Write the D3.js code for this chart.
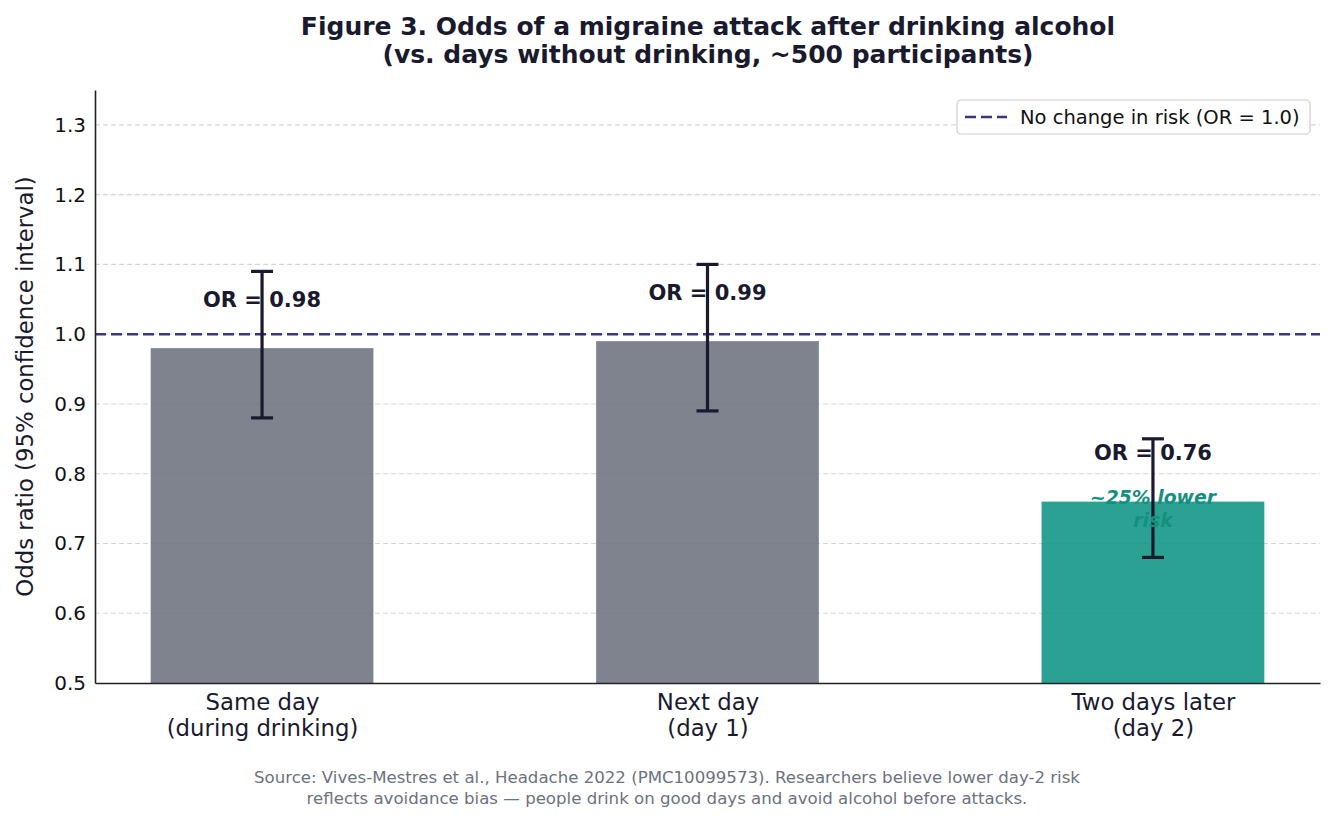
<!DOCTYPE html>
<html>
<head>
<meta charset="utf-8">
<script src="https://cdn.jsdelivr.net/npm/d3@7"></script>
<style>
  html, body { margin: 0; padding: 0; background: #fff; }
  svg { display: block; font-family: "DejaVu Sans", sans-serif; }
</style>
</head>
<body>
<svg id="chart" width="1335" height="822"></svg>
<script>
const categories = ["Same day\n(during drinking)", "Next day\n(day 1)", "Two days later\n(day 2)"];
const oddsRatios = [0.98, 0.99, 0.76];
const ciLow = [0.88, 0.89, 0.68];
const ciHigh = [1.09, 1.10, 0.85];
const barColors = ["#676d7a", "#676d7a", "#069081"];
const yTicks = [0.5, 0.6, 0.7, 0.8, 0.9, 1.0, 1.1, 1.2, 1.3];
const refValue = 1.0;
const titleLines = ["Figure 3. Odds of a migraine attack after drinking alcohol", "(vs. days without drinking, ~500 participants)"];
const sourceLines = ["Source: Vives-Mestres et al., Headache 2022 (PMC10099573). Researchers believe lower day-2 risk",
                     "reflects avoidance bias \u2014 people drink on good days and avoid alcohol before attacks."];
const annotation = ["~25% lower", "risk"];

const svg = d3.select("#chart");
const M = {left: 95, right: 1320, top: 90, bottom: 683};

const x = d3.scaleLinear().domain([-0.375, 2.375]).range([M.left, M.right]);
const y = d3.scaleLinear().domain([0.5, 1.35]).range([M.bottom, M.top]);
const barW = x(0.5) - x(0);
const ink = "#1a1a2e";

// grid
svg.append("g").selectAll("line").data(yTicks.filter(t => t > 0.5)).join("line")
  .attr("x1", M.left).attr("x2", M.right)
  .attr("y1", d => y(d)).attr("y2", d => y(d))
  .attr("stroke", "#d6d6d6").attr("stroke-width", 1.1).attr("stroke-dasharray", "5,3");

// bars
svg.append("g").selectAll("rect").data(oddsRatios).join("rect")
  .attr("x", (d, i) => x(i) - barW / 2)
  .attr("width", barW)
  .attr("y", d => y(d))
  .attr("height", d => y(0.5) - y(d))
  .attr("fill", (d, i) => barColors[i])
  .attr("fill-opacity", 0.85);

// reference line
svg.append("line")
  .attr("x1", M.left).attr("x2", M.right)
  .attr("y1", y(refValue)).attr("y2", y(refValue))
  .attr("stroke", "#3b3480").attr("stroke-width", 2.4).attr("stroke-dasharray", "11,5");

// error bars
const eg = svg.append("g").attr("stroke", ink).attr("stroke-width", 3.2);
oddsRatios.forEach((d, i) => {
  const cx = x(i);
  eg.append("line").attr("x1", cx).attr("x2", cx).attr("y1", y(ciLow[i])).attr("y2", y(ciHigh[i]));
  eg.append("line").attr("x1", cx - 11).attr("x2", cx + 11).attr("y1", y(ciLow[i])).attr("y2", y(ciLow[i]));
  eg.append("line").attr("x1", cx - 11).attr("x2", cx + 11).attr("y1", y(ciHigh[i])).attr("y2", y(ciHigh[i]));
});

// OR labels
svg.append("g").selectAll("text").data(oddsRatios).join("text")
  .attr("x", (d, i) => x(i))
  .attr("y", d => y(d + 0.07))
  .attr("dy", "0.36em")
  .attr("text-anchor", "middle")
  .attr("font-size", 21).attr("font-weight", "bold").attr("fill", ink)
  .text(d => "OR = " + d.toFixed(2));

// annotation
const ann = svg.append("text")
  .attr("text-anchor", "middle")
  .attr("font-size", 18.8).attr("font-weight", "bold").attr("font-style", "italic")
  .attr("fill", "#14907f");
annotation.forEach((t, k) => {
  ann.append("tspan").attr("x", x(2)).attr("y", y(oddsRatios[2] - 0.01) + (k - 0.5) * 23).attr("dy", "0.36em").text(t);
});

// axes
const yAxis = d3.axisLeft(y).tickValues(yTicks).tickFormat(d3.format(".1f")).tickSize(0).tickPadding(9);
const gy = svg.append("g").attr("transform", `translate(${M.left},0)`).call(yAxis);
gy.select(".domain").attr("stroke", "#222").attr("stroke-width", 1.6);
gy.selectAll(".tick text").attr("font-size", 20).attr("fill", "#111").attr("font-family", "DejaVu Sans");

const xAxis = d3.axisBottom(x).tickValues([0, 1, 2]).tickSize(0).tickFormat("");
const gx = svg.append("g").attr("transform", `translate(0,${M.bottom})`).call(xAxis);
gx.select(".domain").attr("stroke", "#222").attr("stroke-width", 1.6);
gx.selectAll(".tick").each(function(d) {
  const t = d3.select(this).append("text").attr("text-anchor", "middle")
    .attr("font-size", 22.8).attr("fill", ink).attr("font-family", "DejaVu Sans");
  categories[d].split("\n").forEach((line, k) => {
    t.append("tspan").attr("x", 0).attr("y", 27 + k * 26).text(line);
  });
});

// y label
svg.append("text")
  .attr("transform", `translate(33,${(M.top + M.bottom) / 2}) rotate(-90)`)
  .attr("text-anchor", "middle")
  .attr("font-size", 22.8).attr("fill", ink)
  .text("Odds ratio (95% confidence interval)");

// title
const title = svg.append("text").attr("text-anchor", "middle")
  .attr("font-size", 25).attr("font-weight", "bold").attr("fill", ink);
titleLines.forEach((t, k) => title.append("tspan").attr("x", 708).attr("y", 35 + k * 28).text(t));

// source
const src = svg.append("text").attr("text-anchor", "middle")
  .attr("font-size", 16.6).attr("fill", "#6b7280");
sourceLines.forEach((t, k) => src.append("tspan").attr("x", 667).attr("y", 783 + k * 21).text(t));

// legend
const lg = svg.append("g");
lg.append("rect").attr("x", 957).attr("y", 100).attr("width", 353).attr("height", 34).attr("rx", 4)
  .attr("fill", "#fff").attr("fill-opacity", 0.85).attr("stroke", "#cccccc").attr("stroke-width", 1.2);
lg.append("line").attr("x1", 965).attr("x2", 1007).attr("y1", 117).attr("y2", 117)
  .attr("stroke", "#3b3480").attr("stroke-width", 2.4).attr("stroke-dasharray", "11,5");
lg.append("text").attr("x", 1020).attr("y", 117).attr("dy", "0.36em")
  .attr("font-size", 19.5).attr("fill", "#111").text("No change in risk (OR = " + refValue.toFixed(1) + ")");
</script>
</body>
</html>
